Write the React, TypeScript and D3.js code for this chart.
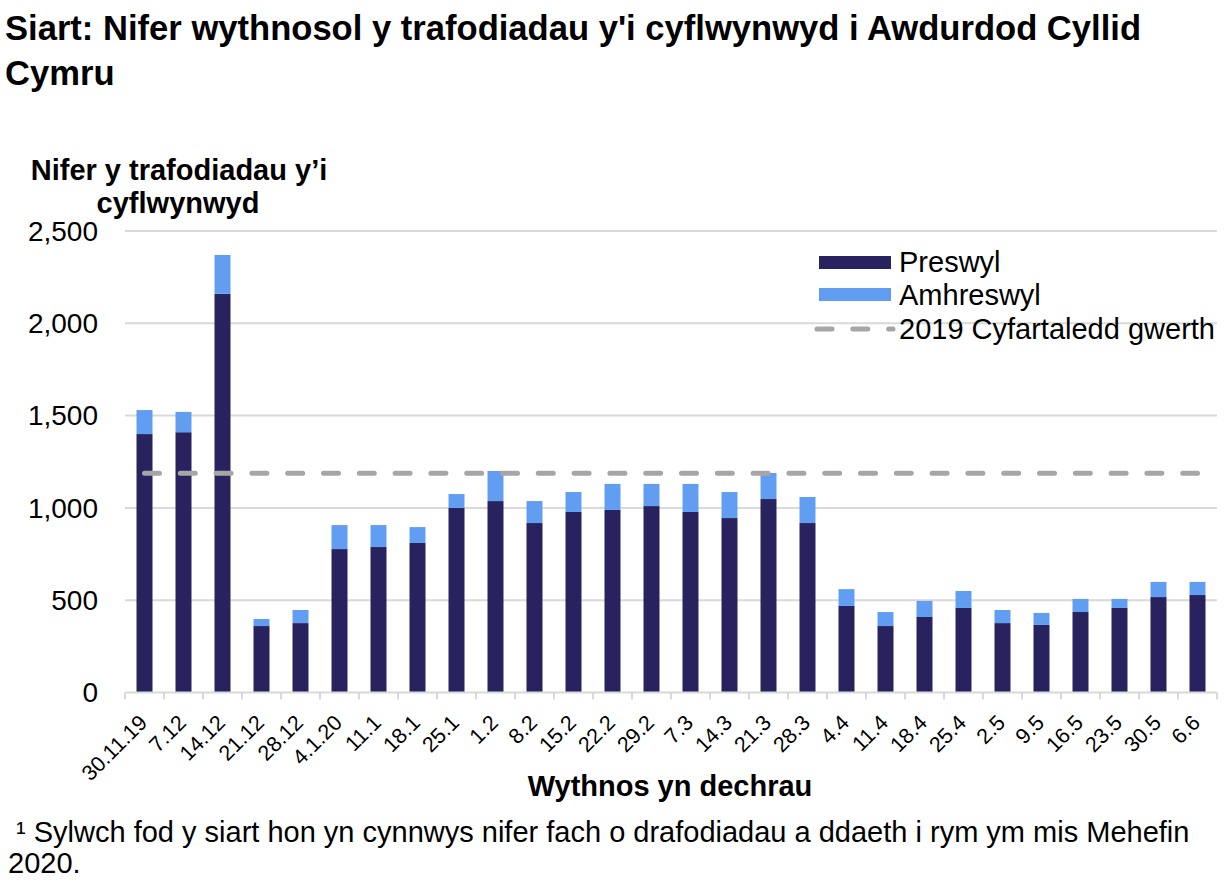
import React from 'react';
import * as d3 from 'd3';

const weeks = ["30.11.19","7.12","14.12","21.12","28.12","4.1.20","11.1","18.1","25.1","1.2","8.2","15.2","22.2","29.2","7.3","14.3","21.3","28.3","4.4","11.4","18.4","25.4","2.5","9.5","16.5","23.5","30.5","6.6"];
const preswyl = [1400,1410,2160,360,376,777,788,810,1000,1037,918,978,989,1010,978,945,1048,918,469,360,409,458,376,366,436,458,517,528];
const amhreswyl = [130,110,210,38,71,130,119,86,75,163,119,108,141,120,152,141,141,141,91,76,87,92,71,65,71,49,82,71];
const average2019 = 1188;
const yTickValues = [0,500,1000,1500,2000,2500];
const seriesNames = ["Preswyl","Amhreswyl","2019 Cyfartaledd gwerth"];

const W = 1231, H = 892;
const FONT = '"Liberation Sans", Arial, Helvetica, sans-serif';
const DARK = '#28235F';
const LIGHT = '#619EF2';
const DASH = '#A6A6A6';
const GRID = '#D9D9D9';

export default function App() {
  const x = d3.scaleBand<string>().domain(weeks).range([125, 1217]).paddingInner(0.59).paddingOuter(0.295);
  const y = d3.scaleLinear().domain([0, 2500]).range([692.5, 231]);
  const bw = x.bandwidth();
  const step = x.step();
  const fmt = d3.format(',');
  const boundaries = weeks.map(w => (x(w) as number) - (step - bw) / 2).concat([1217]);
  const stacked = d3.stack<number>().keys(['0', '1']).value((i, k) => (k === '0' ? preswyl[i] : amhreswyl[i]))(d3.range(weeks.length));
  const colors = [DARK, LIGHT];
  const cx = (w: string) => (x(w) as number) + bw / 2;

  return (
    <div style={{ position: 'absolute', left: 0, top: 0 }}>
      <svg width={W} height={H} style={{ display: 'block', background: '#fff' }} fontFamily={FONT}>
        <text x={5} y={40} fontSize={34.6} fontWeight="bold" fill="#000">Siart: Nifer wythnosol y trafodiadau y'i cyflwynwyd i Awdurdod Cyllid</text>
        <text x={5} y={85} fontSize={34.6} fontWeight="bold" fill="#000">Cymru</text>

        <text x={179} y={180} fontSize={29} fontWeight="bold" textAnchor="middle">Nifer y trafodiadau y’i</text>
        <text x={178} y={213} fontSize={29} fontWeight="bold" textAnchor="middle">cyflwynwyd</text>

        {yTickValues.filter(v => v > 0).map(v => (
          <line key={'g' + v} x1={125} x2={1217} y1={y(v)} y2={y(v)} stroke={GRID} strokeWidth={2} />
        ))}
        {yTickValues.map(v => (
          <text key={'t' + v} x={98} y={y(v)} dy="0.35em" fontSize={28} textAnchor="end" fill="#000">{fmt(v)}</text>
        ))}

        {stacked.map((s, si) => (
          <g key={si} fill={colors[si]}>
            {s.map((d, i) => (
              <rect key={i} x={x(weeks[i])} y={y(d[1])} width={bw} height={y(d[0]) - y(d[1])} />
            ))}
          </g>
        ))}

        <line x1={125} x2={1217} y1={y(0)} y2={y(0)} stroke={GRID} strokeWidth={2} />
        {boundaries.map((b, i) => (
          <line key={'xt' + i} x1={b} x2={b} y1={y(0)} y2={y(0) + 7} stroke={GRID} strokeWidth={2} />
        ))}
        {weeks.map(w => (
          <text key={'xl' + w} transform={`translate(${cx(w) + 4},${724}) rotate(-45)`} fontSize={21.5} textAnchor="end" fill="#000">{w}</text>
        ))}

        <line x1={cx(weeks[0])} x2={cx(weeks[weeks.length - 1])} y1={y(average2019)} y2={y(average2019)} stroke={DASH} strokeWidth={5} strokeDasharray="15,20.8" strokeLinecap="round" />

        <rect x={819} y={256} width={72} height={13} fill={DARK} />
        <rect x={819} y={288} width={72} height={13} fill={LIGHT} />
        <line x1={817} x2={893} y1={329} y2={329} stroke={DASH} strokeWidth={5} strokeDasharray="15,20.8" strokeLinecap="round" />
        <text x={899} y={272} fontSize={29} fill="#000">{seriesNames[0]}</text>
        <text x={899} y={305} fontSize={29} fill="#000">{seriesNames[1]}</text>
        <text x={899} y={339} fontSize={29} fill="#000">{seriesNames[2]}</text>

        <text x={670} y={796} fontSize={29} fontWeight="bold" textAnchor="middle">Wythnos yn dechrau</text>

        <text x={16} y={842} fontSize={29} fill="#000">¹ Sylwch fod y siart hon yn cynnwys nifer fach o drafodiadau a ddaeth i rym ym mis Mehefin</text>
        <text x={8} y={873} fontSize={29} fill="#000">2020.</text>
      </svg>
    </div>
  );
}
